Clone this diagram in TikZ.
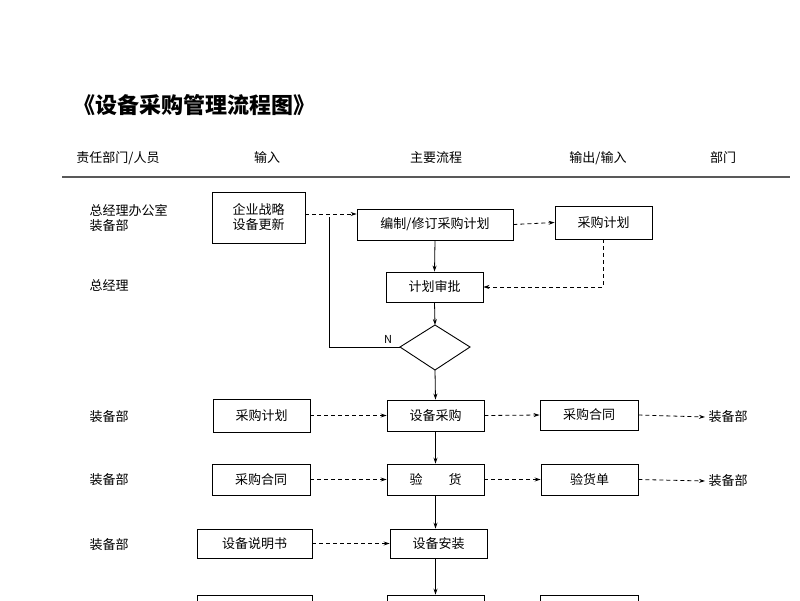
\documentclass[tikz,border=0pt]{standalone}
\usepackage{fontspec}
\setmainfont{Noto Sans CJK SC}
\usetikzlibrary{arrows.meta}
\begin{document}
\begin{tikzpicture}[x=1pt,y=-1pt,
  box/.style={draw,line width=0.9pt,minimum height=30pt,inner sep=0pt,font=\fontsize{13}{15}\selectfont},
  lbl/.style={anchor=west,font=\fontsize{13}{15}\selectfont},
  hd/.style={font=\fontsize{13}{15}\selectfont},
  sa/.style={-{Stealth[length=6pt,width=4pt]},line width=0.8pt},
  da/.style={-{Stealth[length=6pt,width=4pt]},line width=0.8pt,dashed,dash pattern=on 4pt off 3pt}]
\useasboundingbox (0,0) rectangle (800,600);
\clip (0,0) rectangle (800,600);
\node[anchor=west,font=\fontsize{22}{24}\selectfont\bfseries] (title) at (70,105) {《设备采购管理流程图》};
\node[hd] (h1) at (118,158) {责任部门/人员};
\node[hd] (h2) at (267,158) {输入};
\node[hd] (h3) at (436,158) {主要流程};
\node[hd] (h4) at (598,158) {输出/输入};
\node[hd] (h5) at (723,158) {部门};
\draw[line width=2pt,gray!70!black] (62,177) -- (790,177);
\node[lbl,align=left] (l1) at (86,218) {总经理办公室\\装备部};
\node[lbl] (l2) at (86,285) {总经理};
\node[lbl] (l3) at (86,417) {装备部};
\node[lbl] (l4) at (86,480) {装备部};
\node[lbl] (l5) at (86,545) {装备部};
\node[box,minimum width=93pt,minimum height=51pt,align=center] (qy) at (258.5,217.5) {企业战略\\设备更新};
\node[box,minimum width=156pt,minimum height=31pt] (bz) at (435,224.5) {编制/修订采购计划};
\node[box,minimum width=97pt,minimum height=33pt] (cj1) at (603.5,222.5) {采购计划};
\node[box,minimum width=97pt] (sp) at (434.5,287) {计划审批};
\node[draw,line width=0.9pt,shape=rectangle,minimum size=0pt,inner sep=0pt] (dm) at (435,347) {};
\draw[line width=0.9pt] (400,347) -- (435,325) -- (470,347) -- (435,370) -- cycle;
\coordinate (dL) at (400,347);
\coordinate (dT) at (435,325);
\coordinate (dB) at (435,370);
\node[font=\fontsize{11}{12}\selectfont] (N) at (388,339) {N};
\draw[line width=0.8pt] (dL) -- (329,347) -- (329,217);
\draw[da] (qy.east |- 0,214) -- (bz.west |- 0,214);
\draw[da] (bz.east) -- (cj1.west);
\draw[da] (cj1.south) |- (sp.east);
\draw[sa] (bz.south) -- (sp.north);
\draw[sa] (sp.south) -- (dT);
\node[box,minimum width=97pt,minimum height=33pt] (cj2) at (261.5,415.5) {采购计划};
\node[box,minimum width=97pt,minimum height=31pt] (sb) at (435.5,415.5) {设备采购};
\node[box,minimum width=98pt] (ht1) at (589,415) {采购合同};
\node[hd] (z1) at (728,417) {装备部};
\draw[sa] (dB) -- (sb.north);
\draw[da] (cj2.east) -- (sb.west);
\draw[da] (sb.east) -- (ht1.west);
\draw[da] (ht1.east) -- (z1.west);
\node[box,minimum width=98pt,minimum height=31pt] (ht2) at (261,479.5) {采购合同};
\node[box,minimum width=97pt,minimum height=31pt] (yh) at (435.5,479.5) {验\hspace{2em}货};
\node[box,minimum width=97pt,minimum height=31pt] (yhd) at (589.5,479.5) {验货单};
\node[hd] (z2) at (728,481) {装备部};
\draw[sa] (sb.south) -- (yh.north);
\draw[da] (ht2.east) -- (yh.west);
\draw[da] (yh.east) -- (yhd.west);
\draw[da] (yhd.east) -- (z2.west);
\node[box,minimum width=115pt,minimum height=29pt] (sm) at (254.5,543.5) {设备说明书};
\node[box,minimum width=97pt,minimum height=29pt] (az) at (438.5,543.5) {设备安装};
\draw[sa] (yh.south) -- (az.north -| yh.south);
\draw[da] (sm.east) -- (az.west);
\node[box,minimum width=115pt,minimum height=30pt] (b1) at (254.5,610) {};
\node[box,minimum width=97pt,minimum height=30pt] (b2) at (435.5,610) {};
\node[box,minimum width=98pt,minimum height=30pt] (b3) at (589,610) {};
\draw[sa] (az.south -| b2.north) -- (b2.north);
\end{tikzpicture}
\end{document}
